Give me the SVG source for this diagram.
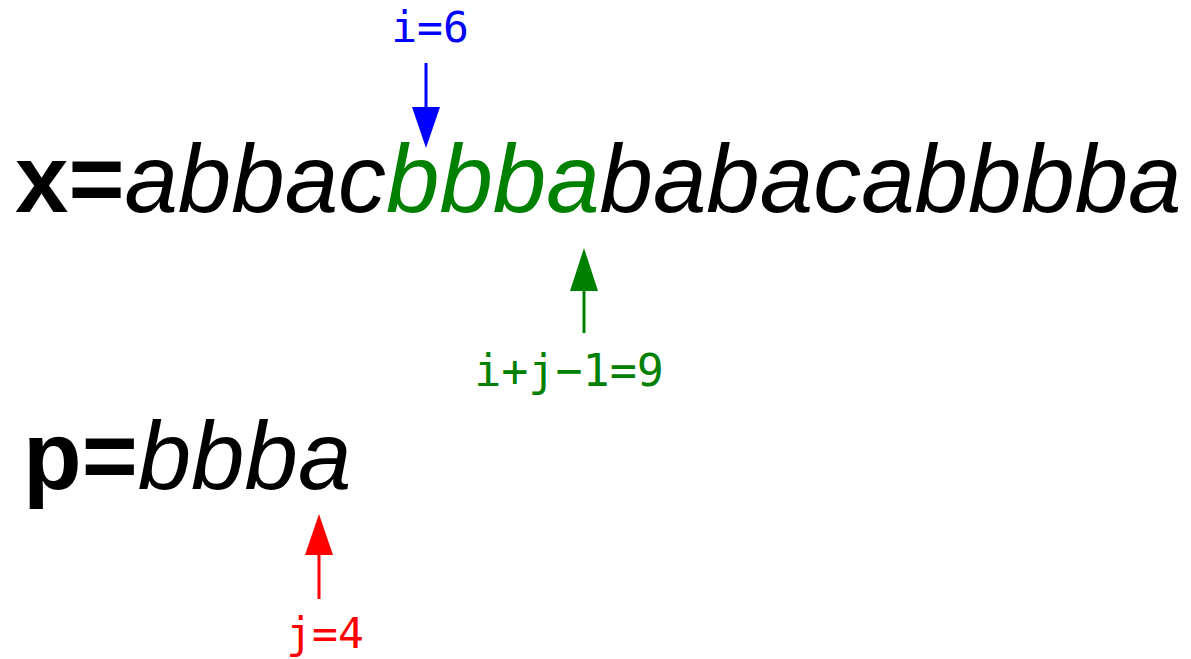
<svg xmlns="http://www.w3.org/2000/svg" width="1191" height="659" viewBox="0 0 1191 659">
  <style>
    .str { font-family: "Liberation Sans", Arial, sans-serif; font-size: 96px; fill: #000; }
    .str .v { font-weight: bold; }
    .str .s { font-style: italic; }
    .str .hit { fill: #008000; }
    .lbl { font-family: "DejaVu Sans Mono", monospace; text-anchor: middle; }
    .conn { stroke-width: 3; fill: none; }
  </style>
  <defs>
    <marker id="head-blue" markerUnits="userSpaceOnUse" markerWidth="41" markerHeight="28" refX="0" refY="14" orient="auto" overflow="visible">
      <path d="M0,0 L41,14 L0,28 z" fill="#0000ff"/>
    </marker>
    <marker id="head-green" markerUnits="userSpaceOnUse" markerWidth="43" markerHeight="28" refX="0" refY="14" orient="auto" overflow="visible">
      <path d="M0,0 L43,14 L0,28 z" fill="#008000"/>
    </marker>
    <marker id="head-red" markerUnits="userSpaceOnUse" markerWidth="41" markerHeight="28" refX="0" refY="14" orient="auto" overflow="visible">
      <path d="M0,0 L41,14 L0,28 z" fill="#ff0000"/>
    </marker>
  </defs>
  <rect width="1191" height="659" fill="#ffffff"/>

  <!-- text string x, with the matched window in green -->
  <g id="string-x">
    <text class="str" x="15" y="212"><tspan class="v">x=</tspan><tspan class="s">abbac</tspan><tspan class="s hit">bbba</tspan><tspan class="s">babacabbbba</tspan></text>
  </g>

  <!-- pattern p -->
  <g id="string-p">
    <text class="str" x="23" y="489"><tspan class="v">p=</tspan><tspan class="s">bbba</tspan></text>
  </g>

  <!-- index labels -->
  <g id="label-i">
    <text class="lbl" x="430" y="42" font-size="43" fill="#0000ff">i=6</text>
  </g>
  <g id="label-end">
    <text class="lbl" x="569" y="386" font-size="45" fill="#008000">i+j−1=9</text>
  </g>
  <g id="label-j">
    <text class="lbl" x="325" y="648" font-size="43" fill="#ff0000">j=4</text>
  </g>

  <!-- pointers -->
  <g id="connectors">
    <line class="conn" x1="426" y1="63" x2="426" y2="107" stroke="#0000ff" marker-end="url(#head-blue)"/>
    <line class="conn" x1="584" y1="333" x2="584" y2="291" stroke="#008000" marker-end="url(#head-green)"/>
    <line class="conn" x1="319" y1="599" x2="319" y2="555" stroke="#ff0000" marker-end="url(#head-red)"/>
  </g>
</svg>
